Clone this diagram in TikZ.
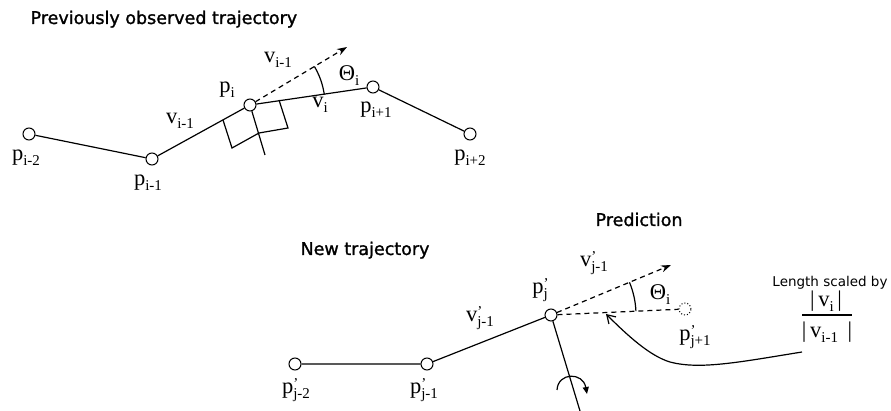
\documentclass[tikz,border=0pt]{standalone}
\usepackage{fontspec}
\setmainfont{Liberation Serif}
\newfontfamily\dvs{DejaVu Sans}
\newfontfamily\dvsb{DejaVu Sans}[FakeBold=1.3]
\usetikzlibrary{arrows.meta}
\newcommand\lb[3]{{\fontsize{22.5}{22}\selectfont #1}\rlap{\raisebox{5pt}{\fontsize{15}{15}\selectfont #2}}\raisebox{-5pt}{\fontsize{15}{15}\selectfont #3}}
\begin{document}
\begin{tikzpicture}[x=1pt,y=-1pt,line width=1.2pt,
  pt/.style={circle,draw,line width=1pt,minimum size=12pt,inner sep=0pt},
  lab/.style={inner sep=0pt},
  ttl/.style={inner sep=0pt,anchor=base west,font=\dvsb\fontsize{17.5}{20}\selectfont},
  dsh/.style={dash pattern=on 5pt off 4pt},
  arr/.style={-{Stealth[length=10pt,width=7pt]}}]
\useasboundingbox (0,0) rectangle (891,411);
% titles
\node[ttl] (t1) at (30,24) {Previously observed trajectory};
\node[ttl] (t2) at (300,255) {New trajectory};
\node[ttl] (t3) at (595,226) {Prediction};
% top trajectory
\node[pt] (pa) at (29,134) {};
\node[pt] (pb) at (152,159) {};
\node[pt] (pc) at (250,105) {};
\node[pt] (pd) at (373,87) {};
\node[pt] (pe) at (470,134) {};
\draw (pa) -- (pb) -- (pc) -- (pd) -- (pe);
\coordinate (ta) at (347,47);
\draw[dsh,arr] (pc) -- (ta);
\coordinate (qp) at (265,155);
\draw (pc) -- (qp);
\draw (223,120) -- (232,148) -- (259,133);
\draw (279,100) -- (288,128) -- (259,133);
\draw plot[domain=7.9:30.9,samples=25] ({250+75*cos(\x)},{105-75*sin(\x)});
% top labels
\node[lab] (la) at (26,158) {\lb{p}{}{i-2}};
\node[lab] (lb) at (148,183) {\lb{p}{}{i-1}};
\node[lab] (lv) at (180,121) {\lb{v}{}{i-1}};
\node[lab] (lc) at (227,90) {\lb{p}{}{i}};
\node[lab] (lu) at (278,60) {\lb{v}{}{i-1}};
\node[lab] (lt) at (349,76) {\lb{Θ}{}{i}};
\node[lab] (lw) at (320,105) {\lb{v}{}{i}};
\node[lab] (ld) at (376,110) {\lb{p}{}{i+1}};
\node[lab] (le) at (470,158) {\lb{p}{}{i+2}};
% bottom trajectory
\node[pt] (qa) at (295,364) {};
\node[pt] (qb) at (427,364) {};
\node[pt] (qc) at (551,315) {};
\node[pt,dotted] (qd) at (685,309) {};
\draw (qa) -- (qb) -- (qc);
\coordinate (tb) at (671,265);
\draw[dsh,arr] (qc) -- (tb);
\draw[dsh] (qc) -- (qd);
\coordinate (qe) at (580,411);
\draw (qc) -- (qe);
\draw[-{Triangle[length=7pt,width=6pt]}] (557,390) .. controls (558,372) and (583,372) .. (587,394);
\draw plot[domain=2.6:22.6,samples=25] ({551+85*cos(\x)},{315-85*sin(\x)});
\coordinate (cs) at (802,352);
\coordinate (ce) at (606,314);
\draw[-{Straight Barb[length=8pt,width=10pt]}] (cs) .. controls (740,362) and (700,370) .. (670,362) .. controls (650,356) and (628,336) .. (ce);
% bottom labels
\node[lab] (ma) at (296,390) {\lb{p}{’}{j-2}};
\node[lab] (mb) at (424,390) {\lb{p}{’}{j-1}};
\node[lab] (mv) at (480,318) {\lb{v}{’}{j-1}};
\node[lab] (mc) at (540,290) {\lb{p}{’}{j}};
\node[lab] (mu) at (594,263) {\lb{v}{’}{j-1}};
\node[lab] (mt) at (660,295) {\lb{Θ}{}{i}};
\node[lab] (md) at (695,337) {\lb{p}{’}{j+1}};
% scaling note
\node[inner sep=0pt,anchor=base,font=\dvs\fontsize{13.5}{15}\selectfont] (ls) at (830,287) {Length scaled by};
\node[lab] (fn) at (826,301) {{\fontsize{22.5}{22}\selectfont |\,}\lb{v}{}{i}{\fontsize{22.5}{22}\selectfont \,|}};
\node[lab] (fd) at (827,332) {{\fontsize{22.5}{22}\selectfont |\,}\lb{v}{}{i-1}{\fontsize{22.5}{22}\selectfont \ \,|}};
\coordinate (fl) at (802,315);
\coordinate (fr) at (852,315);
\draw (fl) -- (fr);
\end{tikzpicture}
\end{document}
